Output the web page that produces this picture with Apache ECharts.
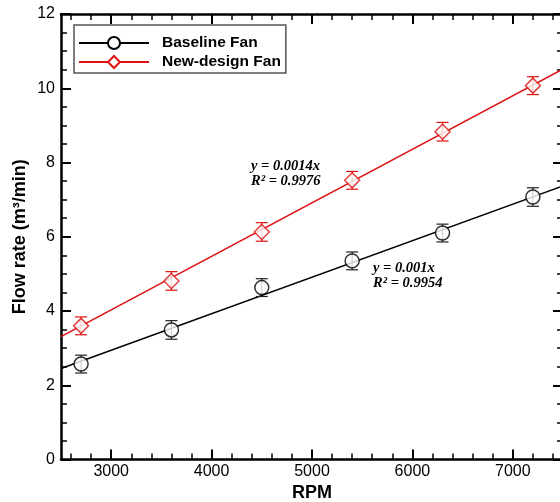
<!DOCTYPE html>
<html><head><meta charset="utf-8">
<script src="https://cdn.jsdelivr.net/npm/echarts@6/dist/echarts.min.js"></script>
<style>html,body{margin:0;padding:0;background:#fff}#c{width:560px;height:502px}</style>
</head><body><div id="c"></div>
<script>
// ---- data ----
const rpm = [2700, 3600, 4500, 5400, 6300, 7200];
const baseline = [2.57, 3.49, 4.63, 5.35, 6.10, 7.07];
const baselineErr = [0.24, 0.25, 0.24, 0.24, 0.24, 0.25];
const newDesign = [3.60, 4.81, 6.13, 7.52, 8.83, 10.07];
const newDesignErr = [0.24, 0.25, 0.25, 0.24, 0.25, 0.24];
const fitX = [2500, 7500];
const baselineFit = [2.45, 7.37];
const newDesignFit = [3.31, 10.52];
const xMajorTicks = [3000, 4000, 5000, 6000, 7000];
const xMinorTicks = [2600, 2800, 3200, 3400, 3600, 3800, 4200, 4400, 4600, 4800, 5200, 5400, 5600, 5800, 6200, 6400, 6600, 6800, 7200, 7400];
const seriesNames = ['Baseline Fan', 'New-design Fan'];
const fitTexts = ['y = 0.0014x\nR\u00B2 = 0.9976', 'y = 0.001x\nR\u00B2 = 0.9954'];

const BLACK = '#000000', RED = '#dd1111';
const zip2 = (a, b) => a.map((v, i) => [v, b[i]]);
const zip3 = (a, b, c) => a.map((v, i) => [v, b[i], c[i]]);

function errRender(color) {
  return function (params, api) {
    const x = api.value(0), y = api.value(1), e = api.value(2);
    const top = api.coord([x, y + e]);
    const bot = api.coord([x, y - e]);
    const hw = 6;
    const st = { stroke: color, lineWidth: 1.2 };
    return { type: 'group', children: [
      { type: 'line', shape: { x1: top[0], y1: top[1], x2: bot[0], y2: bot[1] }, style: st },
      { type: 'line', shape: { x1: top[0] - hw, y1: top[1], x2: top[0] + hw, y2: top[1] }, style: st },
      { type: 'line', shape: { x1: bot[0] - hw, y1: bot[1], x2: bot[0] + hw, y2: bot[1] }, style: st }
    ]};
  };
}

const FONT = 'Liberation Sans, Arial, sans-serif';
function xAx(pos, ticks, len, showLine, showLabel, extra) {
  return Object.assign({
    type: 'value', gridIndex: 0, position: pos, min: 2500, max: 7500,
    axisLine: { show: showLine, lineStyle: { color: BLACK, width: 2.5 } },
    axisTick: { show: true, inside: true, length: len, customValues: ticks, lineStyle: { color: BLACK, width: len > 8 ? 2 : 1.5 } },
    axisLabel: { show: showLabel, customValues: ticks, color: BLACK, fontFamily: FONT, fontSize: 16, margin: 4,
      formatter: v => String(v) },
    splitLine: { show: false }
  }, extra || {});
}
function yAx(pos, showLabel, extra) {
  return Object.assign({
    type: 'value', gridIndex: 0, position: pos, min: 0, max: 12, interval: 2,
    axisLine: { show: true, lineStyle: { color: BLACK, width: 2.5 } },
    axisTick: { show: true, inside: true, length: 10, lineStyle: { color: BLACK, width: 2 } },
    minorTick: { show: true, splitNumber: 4, length: 6, lineStyle: { color: BLACK, width: 1.5 } },
    axisLabel: { show: showLabel, color: BLACK, fontFamily: FONT, fontSize: 16, margin: 6 },
    splitLine: { show: false }
  }, extra || {});
}

const chart = echarts.init(document.getElementById('c'), null, { renderer: 'canvas' });
chart.setOption({
  animation: false,
  backgroundColor: '#ffffff',
  grid: { left: 61, top: 14, width: 502, height: 445.5, containLabel: false, outerBoundsMode: 'none' },
  xAxis: [
    xAx('bottom', xMajorTicks, 10, true, true, {
      name: 'RPM', nameLocation: 'middle', nameGap: 24,
      nameTextStyle: { color: BLACK, fontFamily: FONT, fontWeight: 'bold', fontSize: 18 }
    }),
    xAx('bottom', xMinorTicks, 6, false, false),
    xAx('top', xMajorTicks, 10, true, false),
    xAx('top', xMinorTicks, 6, false, false)
  ],
  yAxis: [
    yAx('left', true, {
      name: 'Flow rate (m\u00B3/min)', nameLocation: 'middle', nameGap: 32, nameRotate: 90,
      nameMoveOverlap: false,
      nameTextStyle: { color: BLACK, fontFamily: FONT, fontWeight: 'bold', fontSize: 18 }
    }),
    yAx('right', false)
  ],
  legend: {
    data: seriesNames,
    orient: 'vertical', left: 74, top: 25,
    itemWidth: 70, itemHeight: 15, itemGap: 3,
    padding: [10, 5, 3, 4],
    borderColor: '#555', borderWidth: 1.5, backgroundColor: '#fff',
    textStyle: { fontFamily: FONT, fontWeight: 'bold', fontSize: 15.5, color: BLACK, padding: [0, 0, 0, 8] }
  },
  series: [
    { name: seriesNames[0], type: 'line', data: zip2(fitX, baselineFit), color: BLACK,
      symbol: 'emptyCircle', showSymbol: false, lineStyle: { color: BLACK, width: 1.5 }, z: 2 },
    { name: seriesNames[1], type: 'line', data: zip2(fitX, newDesignFit), color: RED,
      symbol: 'emptyDiamond', showSymbol: false, lineStyle: { color: RED, width: 1.5 }, z: 2 },
    { name: 'be', type: 'custom', renderItem: errRender('#222'), data: zip3(rpm, baseline, baselineErr),
      encode: { x: 0, y: 1 }, z: 3 },
    { name: 'ne', type: 'custom', renderItem: errRender(RED), data: zip3(rpm, newDesign, newDesignErr),
      encode: { x: 0, y: 1 }, z: 3 },
    { name: 'bm', type: 'scatter', data: zip2(rpm, baseline), symbol: 'circle', symbolSize: 14,
      itemStyle: { color: '#fff', borderColor: BLACK, borderWidth: 1.5 }, z: 4 },
    { name: 'nm', type: 'scatter', data: zip2(rpm, newDesign), symbol: 'diamond', symbolSize: 15,
      itemStyle: { color: '#fff', borderColor: RED, borderWidth: 1.5 }, z: 4 }
  ],
  graphic: [
    { type: 'text', left: 251, top: 159, z: 10,
      style: { text: fitTexts[0], fill: BLACK, font: 'italic bold 14.5px "Liberation Serif", "Times New Roman", serif', lineHeight: 15 } },
    { type: 'text', left: 373, top: 260.5, z: 10,
      style: { text: fitTexts[1], fill: BLACK, font: 'italic bold 14.5px "Liberation Serif", "Times New Roman", serif', lineHeight: 15 } }
  ]
});
</script>
</body></html>
